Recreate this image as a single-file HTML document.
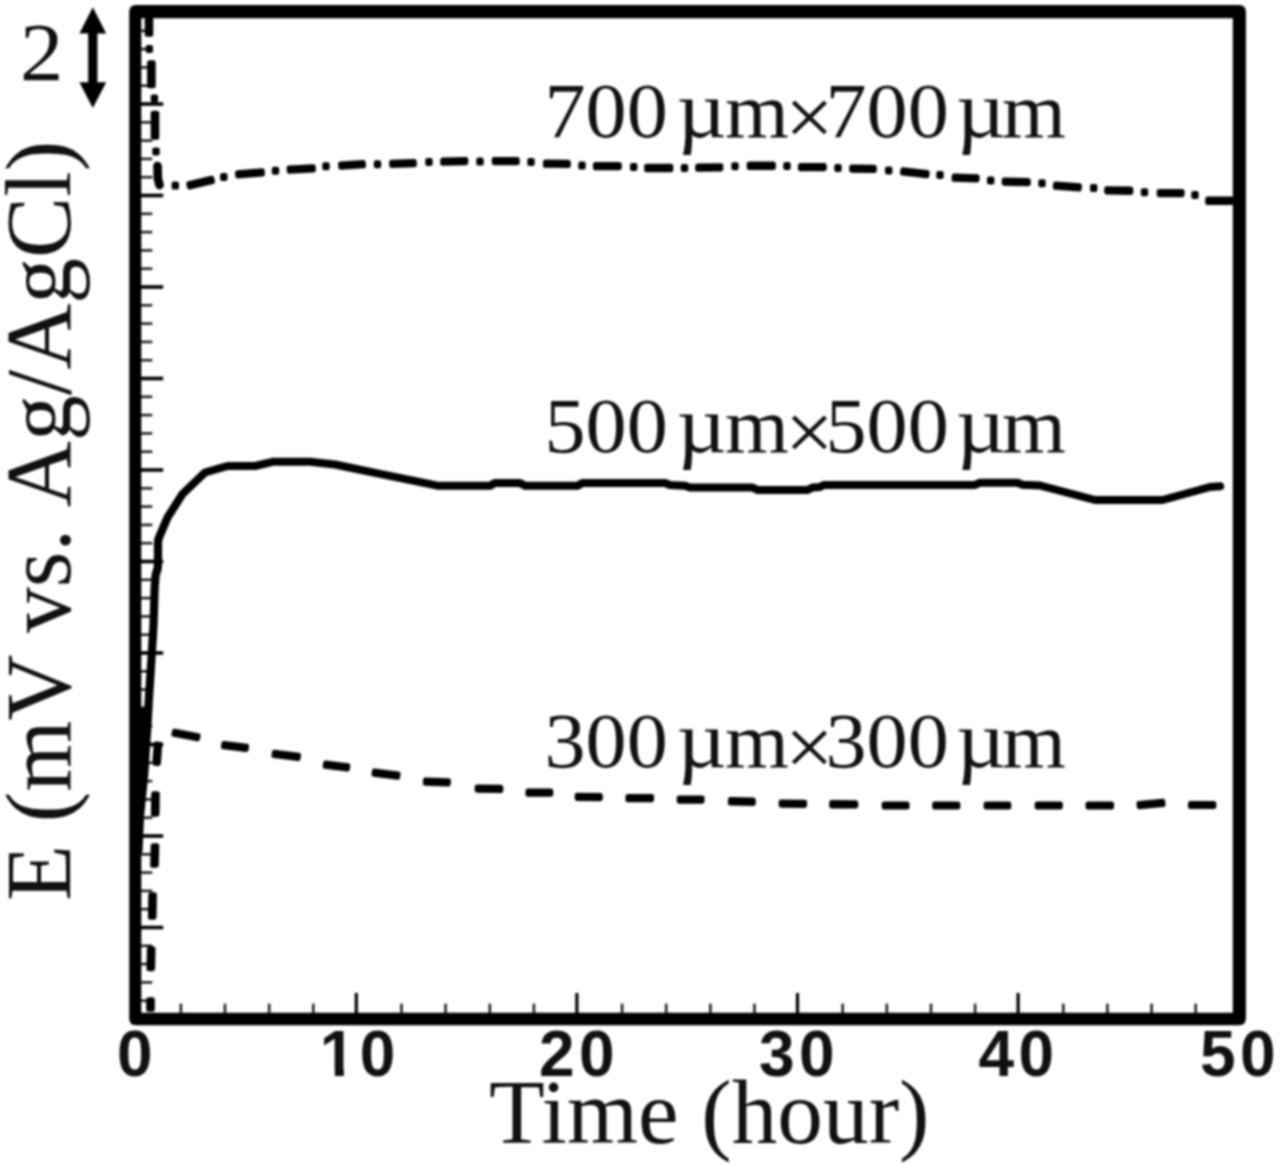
<!DOCTYPE html>
<html lang="en"><head><meta charset="utf-8"><title>E vs Time</title>
<style>
html,body{margin:0;padding:0;background:#fff;}
body{width:1280px;height:1167px;overflow:hidden;}
svg{display:block;filter:blur(1px);}
.serif{font-family:"Liberation Serif","DejaVu Serif",serif;fill:#111;}
.tick{font-family:"Liberation Sans","DejaVu Sans",sans-serif;font-weight:bold;fill:#111;}
</style></head><body>
<svg width="1280" height="1167" viewBox="0 0 1280 1167">
<rect x="0" y="0" width="1280" height="1167" fill="#fff"/>
<path fill="#000" fill-rule="evenodd" d="M136.20,5.10 H1238.90 Q1245.90,5.10 1245.90,12.10 V1018.20 Q1245.90,1025.20 1238.90,1025.20 H136.20 Q129.20,1025.20 129.20,1018.20 V12.10 Q129.20,5.10 136.20,5.10 Z M141.30,18.15 V1012.70 H1232.80 V18.15 Z"/>
<g stroke="#000" fill="none">
<line x1="140.8" y1="30.8" x2="152.3" y2="30.8" stroke-width="2.6" stroke="#222"/>
<line x1="140.8" y1="49.1" x2="152.3" y2="49.1" stroke-width="2.6" stroke="#222"/>
<line x1="140.8" y1="67.4" x2="152.3" y2="67.4" stroke-width="2.6" stroke="#222"/>
<line x1="140.8" y1="85.7" x2="152.3" y2="85.7" stroke-width="2.6" stroke="#222"/>
<line x1="140.8" y1="104.0" x2="163.2" y2="104.0" stroke-width="3.6"/>
<line x1="140.8" y1="122.3" x2="152.3" y2="122.3" stroke-width="2.6" stroke="#222"/>
<line x1="140.8" y1="140.6" x2="152.3" y2="140.6" stroke-width="2.6" stroke="#222"/>
<line x1="140.8" y1="158.9" x2="152.3" y2="158.9" stroke-width="2.6" stroke="#222"/>
<line x1="140.8" y1="177.2" x2="152.3" y2="177.2" stroke-width="2.6" stroke="#222"/>
<line x1="140.8" y1="195.5" x2="163.2" y2="195.5" stroke-width="3.6"/>
<line x1="140.8" y1="213.8" x2="152.3" y2="213.8" stroke-width="2.6" stroke="#222"/>
<line x1="140.8" y1="232.1" x2="152.3" y2="232.1" stroke-width="2.6" stroke="#222"/>
<line x1="140.8" y1="250.4" x2="152.3" y2="250.4" stroke-width="2.6" stroke="#222"/>
<line x1="140.8" y1="268.7" x2="152.3" y2="268.7" stroke-width="2.6" stroke="#222"/>
<line x1="140.8" y1="287.0" x2="163.2" y2="287.0" stroke-width="3.6"/>
<line x1="140.8" y1="305.3" x2="152.3" y2="305.3" stroke-width="2.6" stroke="#222"/>
<line x1="140.8" y1="323.6" x2="152.3" y2="323.6" stroke-width="2.6" stroke="#222"/>
<line x1="140.8" y1="341.9" x2="152.3" y2="341.9" stroke-width="2.6" stroke="#222"/>
<line x1="140.8" y1="360.2" x2="152.3" y2="360.2" stroke-width="2.6" stroke="#222"/>
<line x1="140.8" y1="378.5" x2="163.2" y2="378.5" stroke-width="3.6"/>
<line x1="140.8" y1="396.8" x2="152.3" y2="396.8" stroke-width="2.6" stroke="#222"/>
<line x1="140.8" y1="415.1" x2="152.3" y2="415.1" stroke-width="2.6" stroke="#222"/>
<line x1="140.8" y1="433.4" x2="152.3" y2="433.4" stroke-width="2.6" stroke="#222"/>
<line x1="140.8" y1="451.7" x2="152.3" y2="451.7" stroke-width="2.6" stroke="#222"/>
<line x1="140.8" y1="470.0" x2="163.2" y2="470.0" stroke-width="3.6"/>
<line x1="140.8" y1="488.3" x2="152.3" y2="488.3" stroke-width="2.6" stroke="#222"/>
<line x1="140.8" y1="506.6" x2="152.3" y2="506.6" stroke-width="2.6" stroke="#222"/>
<line x1="140.8" y1="524.9" x2="152.3" y2="524.9" stroke-width="2.6" stroke="#222"/>
<line x1="140.8" y1="543.2" x2="152.3" y2="543.2" stroke-width="2.6" stroke="#222"/>
<line x1="140.8" y1="561.5" x2="163.2" y2="561.5" stroke-width="3.6"/>
<line x1="140.8" y1="579.8" x2="152.3" y2="579.8" stroke-width="2.6" stroke="#222"/>
<line x1="140.8" y1="598.1" x2="152.3" y2="598.1" stroke-width="2.6" stroke="#222"/>
<line x1="140.8" y1="616.4" x2="152.3" y2="616.4" stroke-width="2.6" stroke="#222"/>
<line x1="140.8" y1="634.7" x2="152.3" y2="634.7" stroke-width="2.6" stroke="#222"/>
<line x1="140.8" y1="653.0" x2="163.2" y2="653.0" stroke-width="3.6"/>
<line x1="140.8" y1="671.3" x2="152.3" y2="671.3" stroke-width="2.6" stroke="#222"/>
<line x1="140.8" y1="689.6" x2="152.3" y2="689.6" stroke-width="2.6" stroke="#222"/>
<line x1="140.8" y1="707.9" x2="152.3" y2="707.9" stroke-width="2.6" stroke="#222"/>
<line x1="140.8" y1="726.2" x2="152.3" y2="726.2" stroke-width="2.6" stroke="#222"/>
<line x1="140.8" y1="744.5" x2="163.2" y2="744.5" stroke-width="3.6"/>
<line x1="140.8" y1="762.8" x2="152.3" y2="762.8" stroke-width="2.6" stroke="#222"/>
<line x1="140.8" y1="781.1" x2="152.3" y2="781.1" stroke-width="2.6" stroke="#222"/>
<line x1="140.8" y1="799.4" x2="152.3" y2="799.4" stroke-width="2.6" stroke="#222"/>
<line x1="140.8" y1="817.7" x2="152.3" y2="817.7" stroke-width="2.6" stroke="#222"/>
<line x1="140.8" y1="836.0" x2="163.2" y2="836.0" stroke-width="3.6"/>
<line x1="140.8" y1="854.3" x2="152.3" y2="854.3" stroke-width="2.6" stroke="#222"/>
<line x1="140.8" y1="872.6" x2="152.3" y2="872.6" stroke-width="2.6" stroke="#222"/>
<line x1="140.8" y1="890.9" x2="152.3" y2="890.9" stroke-width="2.6" stroke="#222"/>
<line x1="140.8" y1="909.2" x2="152.3" y2="909.2" stroke-width="2.6" stroke="#222"/>
<line x1="140.8" y1="927.5" x2="163.2" y2="927.5" stroke-width="3.6"/>
<line x1="140.8" y1="945.8" x2="152.3" y2="945.8" stroke-width="2.6" stroke="#222"/>
<line x1="140.8" y1="964.1" x2="152.3" y2="964.1" stroke-width="2.6" stroke="#222"/>
<line x1="140.8" y1="982.4" x2="152.3" y2="982.4" stroke-width="2.6" stroke="#222"/>
<line x1="140.8" y1="1000.7" x2="152.3" y2="1000.7" stroke-width="2.6" stroke="#222"/>
<line x1="180.9" y1="1013.2" x2="180.9" y2="1003.6" stroke-width="2.6" stroke="#222"/>
<line x1="225.0" y1="1013.2" x2="225.0" y2="1003.6" stroke-width="2.6" stroke="#222"/>
<line x1="269.2" y1="1013.2" x2="269.2" y2="1003.6" stroke-width="2.6" stroke="#222"/>
<line x1="313.3" y1="1013.2" x2="313.3" y2="1003.6" stroke-width="2.6" stroke="#222"/>
<line x1="356.3" y1="1013.2" x2="356.3" y2="993.0" stroke-width="3.2"/>
<line x1="401.5" y1="1013.2" x2="401.5" y2="1003.6" stroke-width="2.6" stroke="#222"/>
<line x1="445.6" y1="1013.2" x2="445.6" y2="1003.6" stroke-width="2.6" stroke="#222"/>
<line x1="489.8" y1="1013.2" x2="489.8" y2="1003.6" stroke-width="2.6" stroke="#222"/>
<line x1="533.9" y1="1013.2" x2="533.9" y2="1003.6" stroke-width="2.6" stroke="#222"/>
<line x1="576.9" y1="1013.2" x2="576.9" y2="993.0" stroke-width="3.2"/>
<line x1="622.1" y1="1013.2" x2="622.1" y2="1003.6" stroke-width="2.6" stroke="#222"/>
<line x1="666.2" y1="1013.2" x2="666.2" y2="1003.6" stroke-width="2.6" stroke="#222"/>
<line x1="710.4" y1="1013.2" x2="710.4" y2="1003.6" stroke-width="2.6" stroke="#222"/>
<line x1="754.5" y1="1013.2" x2="754.5" y2="1003.6" stroke-width="2.6" stroke="#222"/>
<line x1="797.5" y1="1013.2" x2="797.5" y2="993.0" stroke-width="3.2"/>
<line x1="842.7" y1="1013.2" x2="842.7" y2="1003.6" stroke-width="2.6" stroke="#222"/>
<line x1="886.8" y1="1013.2" x2="886.8" y2="1003.6" stroke-width="2.6" stroke="#222"/>
<line x1="931.0" y1="1013.2" x2="931.0" y2="1003.6" stroke-width="2.6" stroke="#222"/>
<line x1="975.1" y1="1013.2" x2="975.1" y2="1003.6" stroke-width="2.6" stroke="#222"/>
<line x1="1018.1" y1="1013.2" x2="1018.1" y2="993.0" stroke-width="3.2"/>
<line x1="1063.3" y1="1013.2" x2="1063.3" y2="1003.6" stroke-width="2.6" stroke="#222"/>
<line x1="1107.4" y1="1013.2" x2="1107.4" y2="1003.6" stroke-width="2.6" stroke="#222"/>
<line x1="1151.6" y1="1013.2" x2="1151.6" y2="1003.6" stroke-width="2.6" stroke="#222"/>
<line x1="1195.7" y1="1013.2" x2="1195.7" y2="1003.6" stroke-width="2.6" stroke="#222"/>
</g>
<g transform="scale(1.03,1)"><polyline fill="none" stroke="#000" stroke-width="8.0" stroke-linejoin="round" stroke-linecap="round" points="134.47,850.0 135.92,816.0 140.10,773.0 142.91,729.0 144.47,700.0 147.09,658.0 149.03,625.0 150.19,587.0 151.07,575.0 153.20,568.0 153.40,556.0 153.40,543.0 153.79,539.0 162.62,517.5 177.18,494.0 199.03,472.5 220.87,466.0 247.57,466.0 264.56,461.8 300.97,461.8 325.24,464.5 368.93,473.8 424.76,485.7 475.73,485.8 480.58,483.0 504.85,483.0 509.71,485.8 560.68,485.8 565.53,483.0 645.63,483.0 650.49,485.0 665.05,485.8 669.90,487.5 730.58,487.5 735.44,490.0 783.98,490.0 788.83,487.5 796.12,487.0 799.76,485.0 946.60,485.0 951.46,482.7 987.86,482.7 992.72,484.7 1009.71,485.5 1063.11,500.0 1128.64,500.0 1174.76,487.0 1184.47,486.2"/></g>
<path fill="#000" d="M140,707 L146.5,707 L143.5,780 L140,780 Z"/>
<g fill="#000" stroke="#000" stroke-linejoin="round">
<path d="M173.9,734.4 L197.5,738.8 L198.1,735.6 L174.5,731.2 Z" stroke-width="5.0"/>
<path d="M223.5,746.8 L246.1,749.4 L246.5,746.2 L223.9,743.6 Z" stroke-width="5.0"/>
<path d="M274.0,755.6 L298.1,758.4 L298.5,755.2 L274.4,752.3 Z" stroke-width="5.0"/>
<path d="M325.2,766.3 L347.4,768.9 L347.8,765.7 L325.6,763.1 Z" stroke-width="5.0"/>
<path d="M374.0,774.3 L397.6,777.2 L398.0,773.9 L374.4,771.1 Z" stroke-width="5.0"/>
<path d="M425.4,783.2 L448.2,784.1 L448.4,780.8 L425.5,779.9 Z" stroke-width="5.0"/>
<path d="M477.2,790.2 L500.8,790.6 L500.8,787.3 L477.2,786.9 Z" stroke-width="5.0"/>
<path d="M527.9,794.2 L550.8,794.3 L550.8,791.0 L528.0,790.9 Z" stroke-width="5.0"/>
<path d="M577.2,798.5 L600.3,798.8 L600.3,795.5 L577.2,795.2 Z" stroke-width="5.0"/>
<path d="M627.9,799.7 L651.5,799.8 L651.6,796.5 L628.0,796.4 Z" stroke-width="5.0"/>
<path d="M679.2,801.2 L702.0,801.3 L702.1,798.0 L679.2,797.9 Z" stroke-width="5.0"/>
<path d="M730.4,802.9 L753.3,803.4 L753.3,800.1 L730.5,799.6 Z" stroke-width="5.0"/>
<path d="M781.2,805.3 L804.5,805.5 L804.6,802.2 L781.2,802.0 Z" stroke-width="5.0"/>
<path d="M831.7,805.9 L855.8,806.0 L855.8,802.7 L831.7,802.6 Z" stroke-width="5.0"/>
<path d="M884.2,807.1 L907.0,807.1 L907.0,803.9 L884.2,803.9 Z" stroke-width="5.0"/>
<path d="M934.7,807.1 L957.8,807.1 L957.8,803.9 L934.7,803.9 Z" stroke-width="5.0"/>
<path d="M986.2,807.1 L1008.8,807.1 L1008.8,803.9 L986.2,803.9 Z" stroke-width="5.0"/>
<path d="M1037.2,807.1 L1060.3,807.1 L1060.3,803.9 L1037.2,803.9 Z" stroke-width="5.0"/>
<path d="M1088.0,807.1 L1111.5,807.1 L1111.5,803.9 L1088.0,803.9 Z" stroke-width="5.0"/>
<path d="M1139.3,806.7 L1163.0,804.6 L1162.7,801.3 L1139.0,803.4 Z" stroke-width="5.0"/>
<path d="M1190.5,806.6 L1213.8,806.6 L1213.8,803.4 L1190.5,803.4 Z" stroke-width="5.0"/>
<path d="M156.1,744.1 L154.8,763.2 L158.4,763.4 L159.7,744.3 Z" stroke-width="5.0"/>
<path d="M153.7,793.7 L153.4,814.3 L157.0,814.3 L157.3,793.7 Z" stroke-width="5.0"/>
<path d="M153.2,845.7 L152.7,865.3 L156.3,865.3 L156.8,845.7 Z" stroke-width="5.0"/>
<path d="M150.8,894.7 L150.4,917.3 L154.0,917.3 L154.4,894.7 Z" stroke-width="5.0"/>
<path d="M149.4,948.7 L149.0,968.8 L152.6,968.8 L153.0,948.7 Z" stroke-width="5.0"/>
<path d="M148.7,999.7 L148.7,1009.3 L152.3,1009.3 L152.3,999.7 Z" stroke-width="5.0"/>
</g>
<g fill="#000" stroke="#000" stroke-linejoin="round">
<path d="M189.5,187.0 L212.5,181.5 L211.7,178.3 L188.8,183.8 Z" stroke-width="5.0"/>
<path d="M237.8,176.0 L262.4,174.1 L262.2,170.8 L237.6,172.7 Z" stroke-width="5.0"/>
<path d="M289.3,171.3 L313.4,170.0 L313.2,166.7 L289.1,168.0 Z" stroke-width="5.0"/>
<path d="M340.8,167.2 L363.4,165.8 L363.2,162.5 L340.6,163.9 Z" stroke-width="5.0"/>
<path d="M391.8,165.6 L414.4,164.7 L414.2,161.4 L391.6,162.3 Z" stroke-width="5.0"/>
<path d="M442.7,163.2 L465.8,162.7 L465.8,159.4 L442.7,159.9 Z" stroke-width="5.0"/>
<path d="M494.2,162.7 L517.3,162.8 L517.3,159.5 L494.2,159.4 Z" stroke-width="5.0"/>
<path d="M545.4,165.3 L568.3,165.6 L568.3,162.3 L545.5,162.0 Z" stroke-width="5.0"/>
<path d="M595.4,167.7 L619.3,167.8 L619.3,164.5 L595.5,164.4 Z" stroke-width="5.0"/>
<path d="M646.7,169.7 L670.8,169.7 L670.8,166.3 L646.7,166.3 Z" stroke-width="5.0"/>
<path d="M697.7,169.2 L720.8,169.0 L720.8,165.7 L697.7,165.9 Z" stroke-width="5.0"/>
<path d="M749.2,167.4 L773.3,167.4 L773.3,164.1 L749.2,164.1 Z" stroke-width="5.0"/>
<path d="M800.4,168.7 L824.3,168.8 L824.3,165.5 L800.5,165.4 Z" stroke-width="5.0"/>
<path d="M851.7,170.3 L874.3,170.6 L874.3,167.3 L851.7,167.0 Z" stroke-width="5.0"/>
<path d="M902.5,173.0 L926.9,175.8 L927.2,172.5 L902.9,169.7 Z" stroke-width="5.0"/>
<path d="M954.1,179.3 L977.0,180.0 L977.1,176.7 L954.2,176.0 Z" stroke-width="5.0"/>
<path d="M1004.2,183.3 L1028.3,183.8 L1028.3,180.5 L1004.2,180.0 Z" stroke-width="5.0"/>
<path d="M1055.3,187.3 L1079.2,189.0 L1079.4,185.7 L1055.6,184.0 Z" stroke-width="5.0"/>
<path d="M1106.7,192.0 L1130.8,192.4 L1130.8,189.1 L1106.7,188.7 Z" stroke-width="5.0"/>
<path d="M1159.2,194.7 L1182.0,194.8 L1182.1,191.5 L1159.2,191.4 Z" stroke-width="5.0"/>
<path d="M1207.7,202.4 L1231.3,202.4 L1231.3,199.1 L1207.7,199.1 Z" stroke-width="5.0"/>
<path d="M147.2,19.7 L147.2,34.3 L150.8,34.3 L150.8,19.7 Z" stroke-width="5.0"/>
<path d="M149.6,62.7 L149.6,85.8 L153.2,85.8 L153.2,62.7 Z" stroke-width="5.0"/>
<path d="M153.2,113.2 L153.2,137.3 L156.8,137.3 L156.8,113.2 Z" stroke-width="5.0"/>
<polyline points="157.5,166 157.8,178 159.5,185" fill="none" stroke-linecap="round" stroke-width="8.6"/>
</g>
<g fill="#000">
<rect x="171.6" y="181.6" width="7.4" height="8" rx="2.2"/>
<rect x="220.1" y="173.0" width="7.4" height="8" rx="2.2"/>
<rect x="271.8" y="166.8" width="7.4" height="8" rx="2.2"/>
<rect x="322.3" y="162.3" width="7.4" height="8" rx="2.2"/>
<rect x="373.8" y="160.3" width="7.4" height="8" rx="2.2"/>
<rect x="425.3" y="158.0" width="7.4" height="8" rx="2.2"/>
<rect x="476.3" y="157.6" width="7.4" height="8" rx="2.2"/>
<rect x="527.3" y="158.0" width="7.4" height="8" rx="2.2"/>
<rect x="578.3" y="161.6" width="7.4" height="8" rx="2.2"/>
<rect x="630.0" y="163.0" width="7.4" height="8" rx="2.2"/>
<rect x="680.8" y="164.0" width="7.4" height="8" rx="2.2"/>
<rect x="731.3" y="162.2" width="7.4" height="8" rx="2.2"/>
<rect x="783.3" y="162.0" width="7.4" height="8" rx="2.2"/>
<rect x="834.3" y="164.0" width="7.4" height="8" rx="2.2"/>
<rect x="885.0" y="166.5" width="7.4" height="8" rx="2.2"/>
<rect x="936.3" y="171.0" width="7.4" height="8" rx="2.2"/>
<rect x="987.0" y="176.5" width="7.4" height="8" rx="2.2"/>
<rect x="1038.3" y="179.2" width="7.4" height="8" rx="2.2"/>
<rect x="1090.0" y="184.0" width="7.4" height="8" rx="2.2"/>
<rect x="1140.8" y="188.3" width="7.4" height="8" rx="2.2"/>
<rect x="1191.3" y="191.0" width="7.4" height="8" rx="2.2"/>
<rect x="145.6" y="45.0" width="7.4" height="8" rx="2.2"/>
<rect x="150.7" y="94.5" width="7.4" height="8" rx="2.2"/>
<rect x="152.3" y="147.4" width="7.4" height="8" rx="2.2"/>
</g>
<path fill="#000" d="M92.8,7.2 L106.2,33.4 L97.4,33.4 L97.4,82.3 L106.2,82.3 L92.8,108 L79.4,82.3 L88.2,82.3 L88.2,33.4 L79.4,33.4 Z"/>
<text class="serif" transform="translate(20.1,80.2) scale(1.05,1)" font-size="82.5">2</text>
<text class="serif" transform="translate(0,136.7) scale(1.040,1)" font-size="79"><tspan x="523.56" y="0">700 </tspan><tspan x="650.77" y="0" font-size="83">µ</tspan><tspan x="697.12" y="0">m</tspan><tspan x="754.71" y="8.6" font-size="83">×</tspan><tspan x="793.75" y="0">700 </tspan><tspan x="919.23" y="0" font-size="83">µ</tspan><tspan x="963.46" y="0">m</tspan></text>
<text class="serif" transform="translate(0,451.7) scale(1.040,1)" font-size="79"><tspan x="523.56" y="0">500 </tspan><tspan x="650.77" y="0" font-size="83">µ</tspan><tspan x="697.12" y="0">m</tspan><tspan x="754.71" y="8.6" font-size="83">×</tspan><tspan x="793.75" y="0">500 </tspan><tspan x="919.23" y="0" font-size="83">µ</tspan><tspan x="963.46" y="0">m</tspan></text>
<text class="serif" transform="translate(0,766.7) scale(1.040,1)" font-size="79"><tspan x="523.56" y="0">300 </tspan><tspan x="650.77" y="0" font-size="83">µ</tspan><tspan x="697.12" y="0">m</tspan><tspan x="754.71" y="8.6" font-size="83">×</tspan><tspan x="793.75" y="0">300 </tspan><tspan x="919.23" y="0" font-size="83">µ</tspan><tspan x="963.46" y="0">m</tspan></text>
<text class="serif" transform="translate(70,901) rotate(-90) scale(0.985,1)" font-size="93" x="0" y="0">E (mV vs. <tspan dx="-1.5">Ag/Ag</tspan><tspan dx="0">Cl)</tspan></text>
<text class="serif" x="489" y="1143.3" font-size="91.3">Time (hour)</text>
<text class="tick" x="134.7" y="1075.8" font-size="64" text-anchor="middle" letter-spacing="4.4" dx="2.2">0</text>
<text class="tick" x="357.5" y="1075.8" font-size="64" text-anchor="middle" letter-spacing="4.4" dx="2.2">10</text>
<text class="tick" x="576.8" y="1075.8" font-size="64" text-anchor="middle" letter-spacing="4.4" dx="2.2">20</text>
<text class="tick" x="796.8" y="1075.8" font-size="64" text-anchor="middle" letter-spacing="4.4" dx="2.2">30</text>
<text class="tick" x="1016.2" y="1075.8" font-size="64" text-anchor="middle" letter-spacing="4.4" dx="2.2">40</text>
<text class="tick" x="1237.7" y="1075.8" font-size="64" text-anchor="middle" letter-spacing="4.4" dx="2.2">50</text>
<rect x="322.5" y="1068.6" width="12.3" height="9" fill="#fff"/><rect x="343.9" y="1068.6" width="11.5" height="9" fill="#fff"/>
</svg>
</body></html>
